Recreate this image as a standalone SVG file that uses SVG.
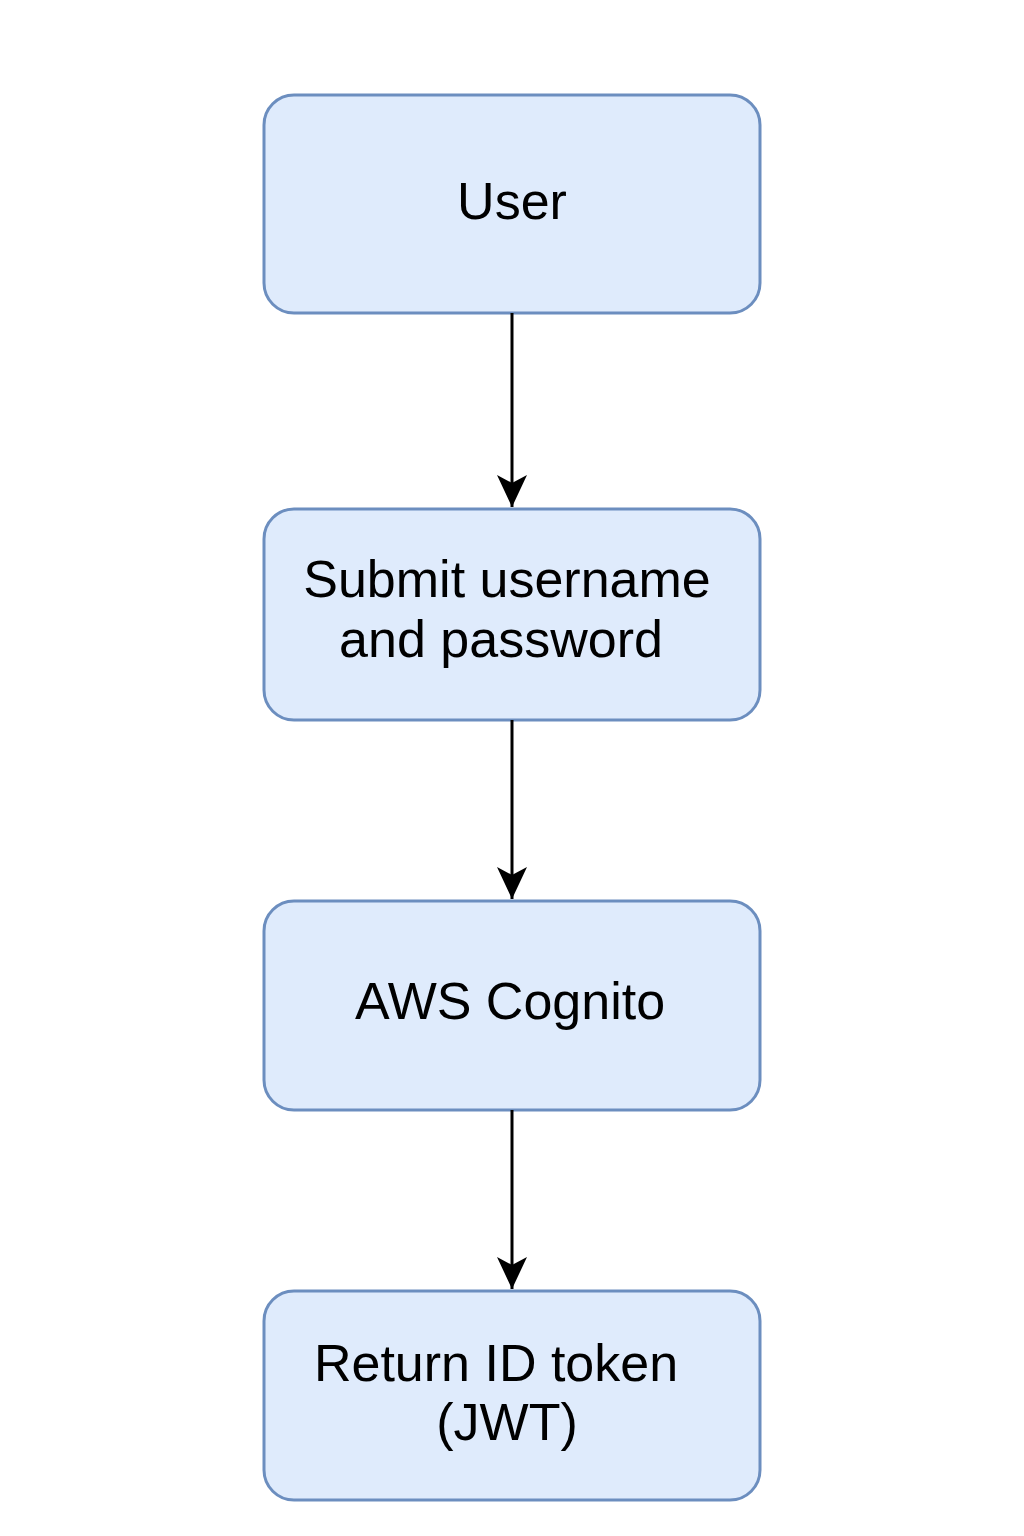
<svg xmlns="http://www.w3.org/2000/svg" width="1024" height="1536" viewBox="0 0 1024 1536">
<style>
.box{fill:#dfebfc;stroke:#6c8ebf;stroke-width:3}
.lbl{font-family:"Liberation Sans",Arial,sans-serif;font-size:52px;fill:#000;text-anchor:middle}
.edge{stroke:#000;stroke-width:3;fill:none}
</style>
<defs>
<marker id="arr" markerUnits="userSpaceOnUse" markerWidth="32" markerHeight="34" refX="32" refY="15" orient="auto">
<path d="M0,0 L32,15 L0,30 L8,15 Z" fill="#000"/>
</marker>
</defs>
<rect width="1024" height="1536" fill="#fff"/>
<g id="n-user"><rect class="box" x="264" y="95" width="496" height="218" rx="30"/><text class="lbl" x="512" y="219">User</text></g>
<g id="n-submit"><rect class="box" x="264" y="509" width="496" height="211" rx="30"/><text class="lbl" x="507" y="597">Submit username</text><text class="lbl" x="501" y="657">and password</text></g>
<g id="n-cognito"><rect class="box" x="264" y="901" width="496" height="209" rx="30"/><text class="lbl" x="510" y="1019">AWS Cognito</text></g>
<g id="n-token"><rect class="box" x="264" y="1291" width="496" height="209" rx="30"/><text class="lbl" x="496" y="1381">Return ID token</text><text class="lbl" x="507" y="1440">(JWT)</text></g>
<g id="edges">
<line class="edge" x1="512" y1="313" x2="512" y2="507" marker-end="url(#arr)"/>
<line class="edge" x1="512" y1="720" x2="512" y2="899" marker-end="url(#arr)"/>
<line class="edge" x1="512" y1="1110" x2="512" y2="1289" marker-end="url(#arr)"/>
</g>
</svg>
